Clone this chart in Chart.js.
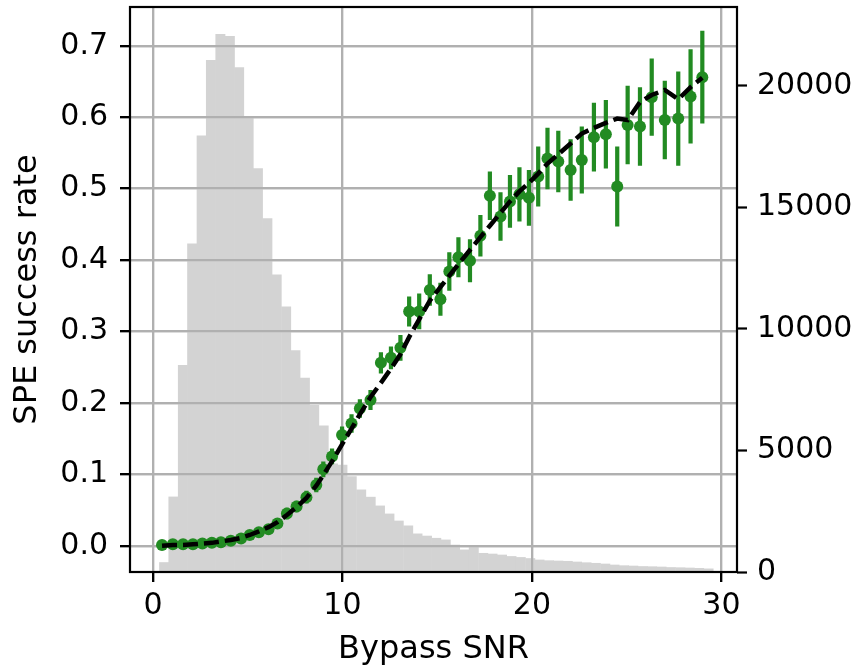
<!DOCTYPE html>
<html><head><meta charset="utf-8">
<script src="https://cdn.jsdelivr.net/npm/chart.js@4.4.1/dist/chart.umd.min.js"></script>
<style>html,body{margin:0;padding:0;background:#fff;}canvas{display:block;}</style>
</head><body>
<canvas id="c" width="859" height="671" style="width:859px;height:671px"></canvas>
<script>
// Histogram of Bypass SNR (bin centres, counts) - right axis
const histCenters = [0.59,1.08,1.58,2.07,2.57,3.06,3.56,4.06,4.55,5.05,5.54,6.04,6.53,7.03,7.52,8.02,8.51,9.01,9.50,10.00,
  10.49,10.99,11.49,11.98,12.48,12.97,13.47,13.96,14.46,14.95,15.45,15.94,16.44,16.93,17.43,17.92,18.42,18.92,19.41,19.91,
  20.40,20.90,21.39,21.89,22.38,22.88,23.37,23.87,24.36,24.86,25.35,25.85,26.34,26.84,27.33,27.83,28.33,28.82,29.32];
const histCounts = [390,3090,8500,13500,17950,21060,22130,22040,20760,18700,16600,14540,12230,10910,9110,7980,6860,6010,4450,4400,
  3930,3380,3080,2720,2390,2100,1900,1570,1480,1390,1320,1110,910,1020,770,740,700,640,600,556,
  495,466,453,441,412,383,359,330,289,260,247,227,218,206,185,177,165,152,130];

// SPE success rate points with error bars - left axis
const snr = [0.48,1.05,1.59,2.11,2.61,3.11,3.59,4.11,4.65,5.11,5.59,6.10,6.57,7.07,7.58,8.10,8.62,8.99,9.45,9.98,
  10.48,10.92,11.48,12.03,12.56,13.06,13.52,14.05,14.61,15.17,15.64,16.12,16.73,17.28,17.78,18.34,18.84,19.34,19.84,20.33,
  20.82,21.39,22.04,22.63,23.27,23.90,24.50,25.05,25.70,26.32,27.01,27.72,28.37,28.99];
const successRate = [0.001,0.002,0.002,0.002,0.003,0.004,0.005,0.007,0.010,0.015,0.019,0.023,0.031,0.045,0.055,0.068,0.085,0.107,0.125,0.155,
  0.171,0.192,0.204,0.256,0.263,0.277,0.328,0.328,0.358,0.345,0.384,0.404,0.399,0.434,0.490,0.461,0.482,0.492,0.487,0.517,
  0.542,0.538,0.526,0.540,0.572,0.576,0.503,0.589,0.587,0.628,0.596,0.598,0.629,0.656];
const successErr = [0.004,0.003,0.003,0.003,0.003,0.003,0.004,0.004,0.005,0.005,0.006,0.006,0.007,0.008,0.008,0.009,0.010,0.011,0.011,0.012,
  0.013,0.013,0.014,0.015,0.016,0.018,0.021,0.025,0.022,0.023,0.027,0.028,0.030,0.029,0.034,0.034,0.037,0.038,0.039,0.042,
  0.043,0.043,0.043,0.047,0.048,0.048,0.056,0.055,0.055,0.054,0.055,0.066,0.066,0.065];
// Dashed model curve
const fitRate = [0.000,0.001,0.001,0.002,0.003,0.004,0.006,0.008,0.011,0.015,0.020,0.026,0.033,0.043,0.054,0.067,0.084,0.099,0.118,0.142,
  0.164,0.184,0.208,0.228,0.248,0.268,0.292,0.317,0.343,0.362,0.378,0.394,0.414,0.432,0.448,0.466,0.482,0.496,0.508,0.521,
  0.535,0.548,0.563,0.577,0.585,0.592,0.598,0.596,0.621,0.631,0.638,0.625,0.642,0.655];

const xTicks = [0,10,20,30];
const leftTicks = [0.0,0.1,0.2,0.3,0.4,0.5,0.6,0.7];
const rightTicks = [0,5000,10000,15000,20000];

const GREEN = '#228b22';
const GRID = '#b0b0b0';
Chart.defaults.font.family = "'DejaVu Sans', sans-serif";
Chart.defaults.color = '#000';

const histData = histCenters.map((c,i)=>({x:c, y:histCounts[i]}));
const pointData = snr.map((x,i)=>({x:x, y:successRate[i]}));
const fitData = snr.map((x,i)=>({x:x, y:fitRate[i]}));
const errData = [];
snr.forEach((x,i)=>{
  errData.push({x:x, y:successRate[i]-successErr[i]});
  errData.push({x:x, y:successRate[i]+successErr[i]});
  errData.push({x:x, y:null});
});

const gridOverBars = {
  id:'gridOverBars',
  afterDatasetDraw(chart, args){
    if(args.index===0){
      chart.scales.x.drawGrid(chart.chartArea);
      chart.scales.y.drawGrid(chart.chartArea);
    }
  }
};
const frame = {
  id:'frame',
  afterDraw(chart){
    const a = chart.chartArea, ctx = chart.ctx;
    ctx.save();
    ctx.strokeStyle = '#000';
    ctx.lineWidth = 2.2;
    ctx.strokeRect(a.left, a.top, a.right-a.left, a.bottom-a.top);
    ctx.restore();
  }
};

const tickFont = {size:30};
const titleFont = {size:32};

new Chart(document.getElementById('c'), {
  type:'bar',
  data:{datasets:[
    {type:'bar', data:histData, xAxisID:'x', yAxisID:'y2', backgroundColor:'#d3d3d3', borderWidth:0,
     barPercentage:1.0, categoryPercentage:1.0, order:10},
    {type:'line', data:errData, xAxisID:'x', yAxisID:'y', borderColor:GREEN, borderWidth:4.2,
     pointRadius:0, spanGaps:false, borderCapStyle:'butt', order:3},
    {type:'line', data:pointData, xAxisID:'x', yAxisID:'y', showLine:false, pointRadius:6,
     pointBackgroundColor:GREEN, pointBorderWidth:0, order:2},
    {type:'line', data:fitData, xAxisID:'x', yAxisID:'y', borderColor:'#000', borderWidth:4.5,
     borderDash:[15,6], pointRadius:0, tension:0, order:1}
  ]},
  options:{
    responsive:false, animation:false, devicePixelRatio:1,
    layout:{padding:{left:0,right:0,top:7,bottom:0}},
    plugins:{legend:{display:false}, tooltip:{enabled:false}},
    scales:{
      x:{type:'linear', position:'bottom', min:-1.21, max:30.82, offset:false,
        grid:{color:GRID, lineWidth:2.2, tickColor:'#000', tickLength:10, tickWidth:2.2, offset:false},
        border:{display:false},
        ticks:{font:tickFont, color:'#000', padding:6, maxRotation:0, autoSkip:false, callback:v=>String(v)},
        afterBuildTicks:s=>{s.ticks = xTicks.map(v=>({value:v}));},
        afterFit:s=>{s.height=99; s.paddingLeft=0; s.paddingRight=0;},
        title:{display:true, text:'Bypass SNR', font:titleFont, color:'#000', padding:{top:0,bottom:2}}
      },
      y:{type:'linear', position:'left', min:-0.0368, max:0.7542,
        grid:{color:GRID, lineWidth:2.2, tickColor:'#000', tickLength:10, tickWidth:2.2},
        border:{display:false},
        ticks:{font:tickFont, color:'#000', padding:12, autoSkip:false, callback:v=>Number(v).toFixed(1)},
        afterBuildTicks:s=>{s.ticks = leftTicks.map(v=>({value:v}));},
        afterFit:s=>{s.width=130; s.paddingTop=0; s.paddingBottom=0;},
        title:{display:true, text:'SPE success rate', font:titleFont, color:'#000', padding:{top:8,bottom:0}}
      },
      y2:{type:'linear', position:'right', min:0, max:23250,
        grid:{drawOnChartArea:false, tickColor:'#000', tickLength:10, tickWidth:2.2},
        border:{display:false},
        ticks:{font:tickFont, color:'#000', padding:10, autoSkip:false, callback:v=>String(v)},
        afterBuildTicks:s=>{s.ticks = rightTicks.map(v=>({value:v}));},
        afterFit:s=>{s.width=122; s.paddingTop=0; s.paddingBottom=0;}
      }
    }
  },
  plugins:[gridOverBars, frame]
});
</script>
</body></html>
